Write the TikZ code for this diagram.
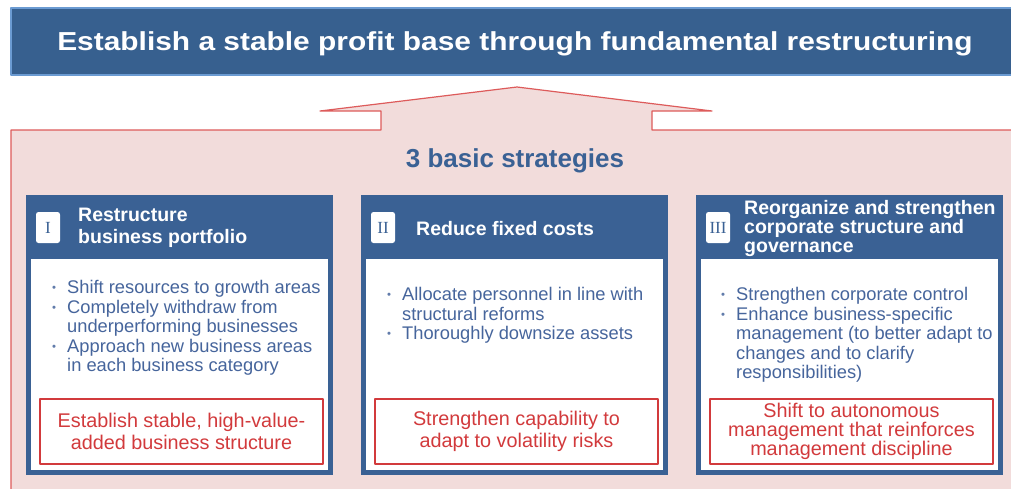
\documentclass[tikz,border=0pt]{standalone}
\usepackage{fontspec}
\setmainfont{Liberation Sans}
\newfontfamily\numfont{Liberation Serif}
\usetikzlibrary{positioning, calc}

\definecolor{goalblue}{HTML}{37608F}
\definecolor{goalline}{HTML}{6B9BD2}
\definecolor{stratblue}{HTML}{3A6194}
\definecolor{itemblue}{HTML}{46659C}
\definecolor{basepink}{HTML}{F2DCDB}
\definecolor{baseline}{HTML}{DD5B5B}
\definecolor{resultred}{HTML}{D23A3C}

\newcommand{\fs}[2]{\fontsize{#1}{#2}\selectfont}
\newcommand{\bul}{\raisebox{2pt}{\textcolor{itemblue!85}{\scalebox{0.62}{\textbullet}}}}

\tikzset{
	goal/.style={draw=goalline, line width=1.5pt, fill=goalblue, minimum width=1012,
		minimum height=67, anchor=north west, inner sep=0},
	goaltext/.style={anchor=base, text=white, inner sep=0, font=\bfseries\fs{26}{30}},
	base/.style={draw=baseline, line width=1.2pt, fill=basepink},
	basetitle/.style={anchor=base, text=stratblue, inner sep=0, font=\bfseries\fs{26}{30}},
	stratbox/.style={fill=stratblue, minimum width=307, minimum height=280,
		anchor=north west, inner sep=0},
	stratbody/.style={fill=white, minimum width=297, minimum height=211,
		anchor=north west, inner sep=0},
	numbadge/.style={fill=white, rounded corners=2.5pt, minimum width=24, minimum height=31,
		inner sep=0, text=stratblue, font=\numfont\fs{17}{17}},
	headtext/.style={anchor=west, align=left, text=white, inner sep=0, font=\bfseries\fs{19.5}{22}},
	itemlist/.style={anchor=base west, inner sep=0, text=itemblue, font=\fs{18.3}{19.5}},
	result/.style={draw=resultred, line width=2pt, fill=white, minimum width=283,
		minimum height=65, anchor=north west, align=center, text=resultred,
		inner sep=0, font=\fs{19.8}{22}}
}

\begin{document}
\begin{tikzpicture}[x=1pt, y=-1pt, line join=round]
\useasboundingbox (0,0) rectangle (1011,488);

%========================
% Goal banner
%========================
\node[goal] (goal) at (10,7) {};
\node[goaltext] (goaltitle) at (515,50)
	{\scalebox{1.15}[1]{Establish a stable profit base through fundamental restructuring}};

%========================
% Base with upward arrow
%========================
\draw[base] (11,500) -- (11,130) -- (381,130) -- (381,111) -- (320,111) -- (517,87)
	-- (712,111) -- (652,111) -- (652,130) -- (1020,130) -- (1020,500) -- cycle;
\node[basetitle] (basetitle) at (515,167) {3 basic strategies};

%========================
% I: portfolio
%========================
\begin{scope}[shift={(26,195)}]
	\node[stratbox] (s1) at (0,0) {};
	\node[stratbody] (s1body) at (5,64) {};
	\node[numbadge] (s1num) at (22,32.5) {I};
	\node[headtext] (s1head) at (52,33) {Restructure\\business portfolio};
	\node[itemlist] (s1items) at (26,98.5) {\begin{tabular}[t]{@{}p{15pt}@{}l@{}}
			\bul & Shift resources to growth areas\\
			\bul & Completely withdraw from\\
			& underperforming businesses\\
			\bul & Approach new business areas\\
			& in each business category
		\end{tabular}};
	\node[result] (s1res) at (13,203) {Establish stable, high-value-\\added business structure};
\end{scope}

%========================
% II: fixed costs
%========================
\begin{scope}[shift={(361,195)}]
	\node[stratbox] (s2) at (0,0) {};
	\node[stratbody] (s2body) at (5,64) {};
	\node[numbadge] (s2num) at (22,32.5) {II};
	\node[headtext] (s2head) at (55,34) {Reduce fixed costs};
	\node[itemlist] (s2items) at (26,105.5) {\begin{tabular}[t]{@{}p{15pt}@{}l@{}}
			\bul & Allocate personnel in line with\\
			& structural reforms\\
			\bul & Thoroughly downsize assets
		\end{tabular}};
	\node[result] (s2res) at (13,203) {Strengthen capability to\\adapt to volatility risks};
\end{scope}

%========================
% III: governance
%========================
\begin{scope}[shift={(696,195)}]
	\node[stratbox] (s3) at (0,0) {};
	\node[stratbody] (s3body) at (5,64) {};
	\node[numbadge] (s3num) at (22,32.5) {III};
	\node[headtext, font=\bfseries\fs{19.5}{19}] (s3head) at (48,33)
		{Reorganize and strengthen\\corporate structure and\\governance};
	\node[itemlist] (s3items) at (25,105.5) {\begin{tabular}[t]{@{}p{15pt}@{}l@{}}
			\bul & Strengthen corporate control\\
			\bul & Enhance business-specific\\
			& management (to better adapt to\\
			& changes and to clarify\\
			& responsibilities)
		\end{tabular}};
	\node[result, font=\fs{19.8}{19}] (s3res) at (13,203)
		{Shift to autonomous\\management that reinforces\\management discipline};
\end{scope}

\end{tikzpicture}
\end{document}
